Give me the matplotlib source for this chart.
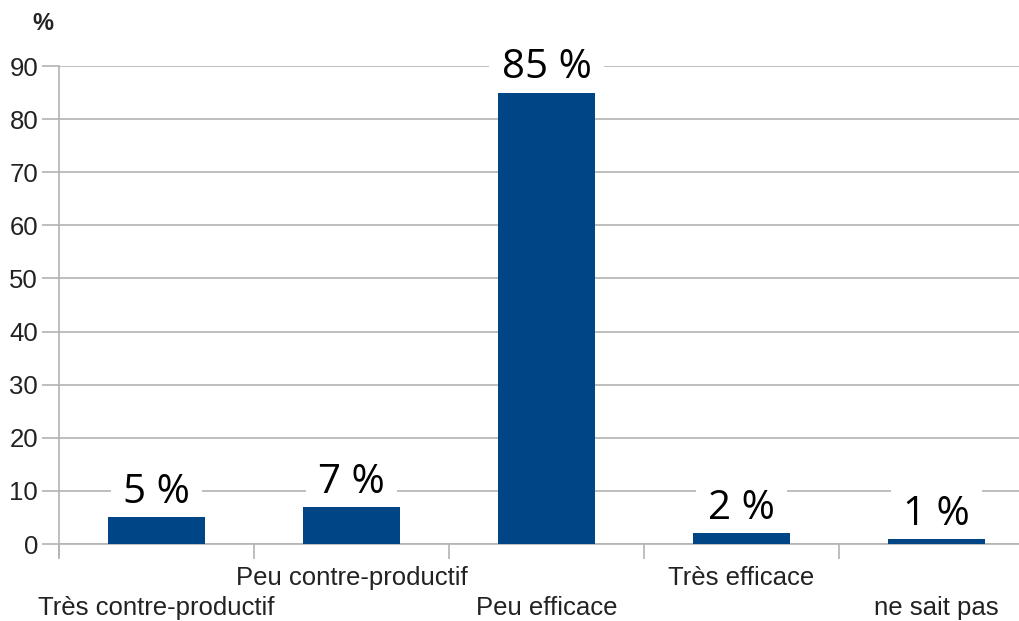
import matplotlib
matplotlib.use("Agg")
import matplotlib.pyplot as plt

categories = ["Très contre-productif", "Peu contre-productif", "Peu efficace",
              "Très efficace", "ne sait pas"]
values = [5, 7, 85, 2, 1]
value_labels = ["5 %", "7 %", "85 %", "2 %", "1 %"]
yticks = [0, 10, 20, 30, 40, 50, 60, 70, 80, 90]

plt.rcParams["font.family"] = ["Liberation Sans", "DejaVu Sans"]

fig = plt.figure(figsize=(10.2, 6.21), dpi=100)
ax = fig.add_axes([59 / 1020, 77 / 621, 975 / 1020, 478 / 621])

grid_col = "#b3b3b3"
xs = range(len(values))
ax.bar(xs, values, width=0.5, color="#004586", zorder=3)

ax.set_xlim(-0.5, len(values) - 0.5)
ax.set_ylim(0, 90)
ax.set_yticks(yticks)
ax.yaxis.grid(True, color=grid_col, linewidth=1.2, zorder=0)
ax.tick_params(axis="y", length=12, color=grid_col, width=1.2,
               labelsize=18.5, labelcolor="#222222", pad=3)

# category ticks sit on the boundaries between bars
ax.set_xticks([i + 0.5 for i in range(-1, len(values))])
ax.set_xticklabels([])
ax.tick_params(axis="x", length=11, color=grid_col, width=1.2)

for s in ["top", "right"]:
    ax.spines[s].set_visible(False)
for s in ["left", "bottom"]:
    ax.spines[s].set_color(grid_col)
    ax.spines[s].set_linewidth(1.2)
ax.spines["left"].set_bounds(-2.2, 90)

# staggered category labels
for i, name in enumerate(categories):
    y_off = -0.108 if i % 2 == 0 else -0.045
    ax.text(i, y_off, name, transform=ax.get_xaxis_transform(), ha="center",
            va="top", fontsize=18.5, color="#222222")

# value labels sit under the bars so their white box only hides gridlines
for i, (v, lab) in enumerate(zip(values, value_labels)):
    ax.annotate(lab, (i, v), xytext=(0, 3), textcoords="offset points",
                ha="center", va="bottom", fontsize=29, family="Open Sans",
                color="black", zorder=2,
                bbox=dict(boxstyle="square,pad=0.3", fc="white", ec="none"))

fig.text(43 / 1020, 1 - 23 / 621, "%", ha="center", va="center",
         fontsize=17, fontweight="bold", color="#222222")

fig.savefig("out.png", dpi=100)
